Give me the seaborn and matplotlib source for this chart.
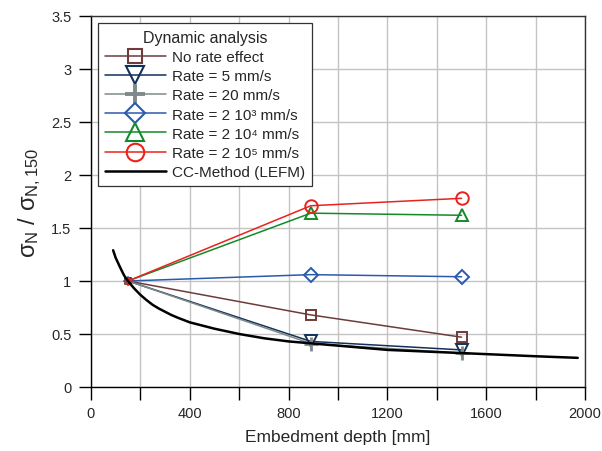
import matplotlib
matplotlib.use('Agg')
import matplotlib.pyplot as plt
from matplotlib.lines import Line2D
from matplotlib.ticker import MultipleLocator, FuncFormatter
import pandas as pd
import seaborn as sns

# depths [mm] of the dynamic analyses
depth = [150, 890, 1500]

# normalised strength sigma_N / sigma_N,150
no_rate = [1.0, 0.68, 0.47]
rate_5 = [1.0, 0.43, 0.35]
rate_20 = [1.0, 0.41, 0.32]
rate_2e3 = [1.0, 1.06, 1.04]
rate_2e4 = [1.0, 1.64, 1.62]
rate_2e5 = [1.0, 1.71, 1.78]

# CC-Method (LEFM) curve
cc_depth = [90, 100, 110, 120, 135, 150, 175, 200, 225, 250, 275, 300, 325,
            350, 400, 450, 500, 600, 700, 800, 900, 1000, 1200, 1400, 1600,
            1800, 1970]
cc_ratio = [1.29, 1.22, 1.17, 1.12, 1.05, 1.0, 0.93, 0.87, 0.82, 0.775,
            0.74, 0.71, 0.68, 0.655, 0.61, 0.58, 0.55, 0.50, 0.46, 0.43,
            0.41, 0.39, 0.35, 0.33, 0.31, 0.29, 0.275]

labels = ['No rate effect', 'Rate = 5 mm/s', 'Rate = 20 mm/s',
          'Rate = 2 10³ mm/s', 'Rate = 2 10⁴ mm/s', 'Rate = 2 10⁵ mm/s']
series = [no_rate, rate_5, rate_20, rate_2e3, rate_2e4, rate_2e5]
colors = ['#6e3b3b', '#14305a', '#7f8a8a', '#2b5aad', '#138a2a', '#e8231d']
markers = ['s', 'v', '+', 'D', '^', 'o']
msizes = [7.5, 9, 10, 7, 9, 9]

sns.set_style('white')
plt.rcParams['font.family'] = ['Liberation Sans', 'DejaVu Sans']
plt.rcParams['mathtext.fontset'] = 'custom'
plt.rcParams['mathtext.rm'] = 'Liberation Sans'
plt.rcParams['mathtext.it'] = 'Liberation Sans:italic'

fig = plt.figure(figsize=(6.02, 4.52), dpi=100)
ax = fig.add_axes([0.151, 0.1416, 0.821, 0.8208])

handles = []
for lab, ys, c, m, ms in zip(labels, series, colors, markers, msizes):
    df = pd.DataFrame({'depth': depth, 'ratio': ys})
    sns.lineplot(data=df, x='depth', y='ratio', ax=ax, color=c, lw=1.1,
                 marker=m, markevery=[1, 2], ms=ms, mfc='none', mec=c,
                 mew=1.4 if m != '+' else 2.0, zorder=3)
    # the 150 mm points are drawn small in the original
    ax.plot(depth[:1], ys[:1], ls='none', marker=m, ms=4.5, mfc='none',
            mec=c, mew=1.2, zorder=3)
    handles.append(Line2D([], [], color=c, lw=1.1, marker=m,
                          ms=ms * 1.4, mfc='none', mec=c,
                          mew=1.5 if m != '+' else 2.8))

sns.lineplot(x=cc_depth, y=cc_ratio, ax=ax, color='black', lw=1.8, zorder=4)
handles.append(Line2D([], [], color='black', lw=1.8))

ax.set_xlim(0, 2000)
ax.set_ylim(0, 3.5)
ax.xaxis.set_major_locator(MultipleLocator(400))
ax.xaxis.set_minor_locator(MultipleLocator(200))
ax.yaxis.set_major_locator(MultipleLocator(0.5))
ax.yaxis.set_major_formatter(FuncFormatter(lambda v, p: f'{v:g}'))
ax.grid(True, which='both', color='#c4c4c4', lw=1.0)
ax.set_axisbelow(True)
ax.tick_params(which='both', direction='out', length=9, width=1,
               color='black', labelsize=10.5, left=True, bottom=True, pad=5)
for s in ax.spines.values():
    s.set_color('#333333')
    s.set_linewidth(1.0)
ax.spines['left'].set_color('black')
ax.spines['bottom'].set_color('black')

ax.set_xlabel('Embedment depth [mm]', fontsize=12.5, labelpad=6)
ax.set_ylabel(r'$\mathregular{σ_N\ /\ σ_{N,150}}$', fontsize=17, labelpad=6)

leg = ax.legend(handles, labels + ['CC-Method (LEFM)'], loc='upper left',
                title='Dynamic analysis', fontsize=11, title_fontsize=11.5,
                fancybox=False, framealpha=1, edgecolor='#333333',
                handlelength=4.0, handletextpad=0.4, labelspacing=0.34,
                borderpad=0.45, borderaxespad=0.45)
leg.get_frame().set_linewidth(0.9)

fig.savefig('out.png', dpi=100)
